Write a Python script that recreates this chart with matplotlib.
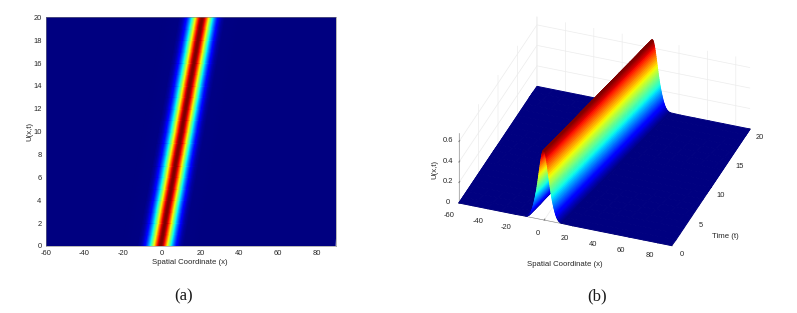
import numpy as np
import matplotlib
matplotlib.use('Agg')
import matplotlib.pyplot as plt
from mpl_toolkits.mplot3d import proj3d

plt.rcParams['font.family'] = ['Liberation Sans', 'DejaVu Sans']
plt.rcParams['axes.unicode_minus'] = False

# ridge position x for each time t
times = [0, 1, 2, 3, 4, 5, 6, 7, 8, 9, 10, 11, 12, 13, 14, 15, 16, 17, 18, 19, 20]
centres = [-0.3, 0.8, 1.9, 2.9, 4.0, 5.1, 6.2, 7.2, 8.3, 9.4, 10.5,
           11.5, 12.6, 13.7, 14.7, 15.8, 16.9, 18.0, 19.0, 20.1, 21.2]

# pulse height against distance from the ridge
half_offsets = [0, 0.2, 0.4, 0.6, 0.8, 1.0, 1.2, 1.4, 1.6, 1.8, 2.0, 2.2, 2.4, 2.6, 2.8, 3.0,
                3.2, 3.4, 3.6, 3.8, 4.0, 4.2, 4.4, 4.6, 4.8, 5.0, 5.2, 5.4, 5.6, 5.8, 6.0, 6.2,
                6.4, 6.6, 6.8, 7.0, 7.2, 7.4, 7.6, 7.8, 8.0, 8.2, 8.4, 8.6, 8.8, 9.0, 9.2, 9.4,
                9.6, 9.8, 10.0, 10.2, 10.4, 10.6, 10.8, 11.0, 11.2, 11.4, 11.6, 11.8, 12.0,
                12.4, 12.8, 20, 30, 40, 50, 60, 70, 80, 90]
half_values = [0.680, 0.678, 0.676, 0.670, 0.663, 0.653, 0.642, 0.629, 0.615, 0.599, 0.582,
               0.564, 0.545, 0.525, 0.505, 0.484, 0.463, 0.442, 0.421, 0.400, 0.380, 0.360,
               0.341, 0.322, 0.303, 0.285, 0.268, 0.252, 0.237, 0.222, 0.207, 0.194, 0.182,
               0.169, 0.156, 0.144, 0.133, 0.122, 0.112, 0.102, 0.093, 0.084, 0.076, 0.068,
               0.061, 0.054, 0.048, 0.042, 0.037, 0.033, 0.029, 0.025, 0.021, 0.018, 0.016,
               0.014, 0.012, 0.010, 0.008, 0.006, 0.005, 0.004, 0.003,
               0.0, 0.0, 0.0, 0.0, 0.0, 0.0, 0.0, 0.0]

x_ticks = [-60, -40, -20, 0, 20, 40, 60, 80]
a_t_ticks = [0, 2, 4, 6, 8, 10, 12, 14, 16, 18, 20]
b_t_ticks = [0, 5, 10, 15, 20]
u_ticks = [0, 0.2, 0.4, 0.6]
text_col = '#262626'
grid_col = '#ececec'

offsets = np.array([-v for v in half_offsets[:0:-1]] + half_offsets)
profile = np.array(half_values[:0:-1] + half_values)
X = np.clip(np.add.outer(centres, offsets), -60, 90)
T = np.repeat(np.array(times, dtype=float)[:, None], len(offsets), axis=1)
U = np.repeat(profile[None, :], len(times), axis=0)

fig = plt.figure(figsize=(7.97, 3.13), dpi=100)

# panel (a)
ax = fig.add_axes([45.7 / 797, 1 - 246 / 313, 290 / 797, 228.7 / 313])
ax.pcolormesh(X, T, U, cmap='jet', vmin=0, vmax=0.68, shading='gouraud')
ax.set_xlim(-60, 90)
ax.set_ylim(0, 20)
ax.set_xticks(x_ticks)
ax.set_yticks(a_t_ticks)
ax.tick_params(length=0, labelsize=5.4, labelcolor=text_col, pad=3)
for s in ax.spines.values():
    s.set_color('#808080')
    s.set_linewidth(0.4)
fig.text(190 / 797, 1 - 263 / 313, 'Spatial Coordinate (x)', fontsize=5.6, color=text_col,
         ha='center', va='center')
fig.text(29.5 / 797, 1 - 131 / 313, 'U(x,t)', fontsize=5.6, color=text_col, rotation=90,
         ha='center', va='center')

# panel (b)
ax3 = fig.add_axes([395 / 797, -0.15, 420 / 797, 420 / 313], projection='3d')
ax3.set_proj_type('ortho')
ax3.view_init(elev=33.2, azim=-69.9)
aspect = (1, 1, 0.367)
ax3.set_box_aspect(aspect)
surf = ax3.plot_surface(X, T, U, cmap='jet', vmin=0, vmax=0.68, rstride=1, cstride=1,
                        linewidth=0.7, shade=False)
surf.set_edgecolor('face')
ax3.set_xlim(-60, 90, view_margin=0)
ax3.set_ylim(0, 20, view_margin=0)
ax3.set_zlim(0, 0.68, view_margin=0)
ax3.set_xticks(x_ticks)
ax3.set_yticks(b_t_ticks)
ax3.set_zticks(u_ticks)
ax3.set_zticklabels(['0', '0.2', '0.4', '0.6'])
ax3.zaxis.set_ticks_position('lower')
for axis in (ax3.xaxis, ax3.yaxis, ax3.zaxis):
    axis.set_pane_color((1, 1, 1, 0))
    axis.pane.set_edgecolor('none')
    axis.line.set_color('#808080')
    axis.line.set_linewidth(0.4)
    axis._axinfo['grid'].update(color=grid_col, linewidth=0.5)
    axis._axinfo['tick'].update(inward_factor=0, outward_factor=0.1)
    axis.set_tick_params(labelsize=5.4, labelcolor=text_col, pad=-2, width=0.4, color='#808080')
ax3.xaxis.set_tick_params(pad=0)
ax3.yaxis.set_tick_params(pad=-1)
for lbl in ax3.xaxis.get_ticklabels():
    lbl.set_ha('right')
for lbl in ax3.zaxis.get_ticklabels():
    lbl.set_va('bottom')


def corner(x, y, z):
    xs, ys, _ = proj3d.proj_transform(x, y, z, ax3.get_proj())
    return ax3.transData.transform((xs, ys))


# fit the floor corners on to where they sit in the reference
ax3.apply_aspect()
p0, p1 = corner(-60, 0, 0), corner(90, 20, 0)
ax3.set_box_aspect(aspect, zoom=(750 - 459) / (p1[0] - p0[0]))
ax3.apply_aspect()
p0 = corner(-60, 0, 0)
pos = ax3.get_position()
ax3.set_position([pos.x0 + (459 - p0[0]) / 797, pos.y0 + (313 - 203 - p0[1]) / 313,
                  pos.width, pos.height])

fig.text(564.7 / 797, 1 - 264 / 313, 'Spatial Coordinate (x)', fontsize=5.6, color=text_col,
         ha='center', va='center')
fig.text(725.7 / 797, 1 - 236 / 313, 'Time (t)', fontsize=5.6, color=text_col,
         ha='center', va='center')
fig.text(435 / 797, 1 - 169 / 313, 'U(x,t)', fontsize=5.6, color=text_col, rotation=90,
         ha='center', va='center')

fig.text(184 / 797, 1 - 296 / 313, '(a)', fontsize=12, family='Liberation Serif', color='#1a1a1a',
         ha='center', va='center')
fig.text(597 / 797, 1 - 296 / 313, '(b)', fontsize=12, family='Liberation Serif', color='#1a1a1a',
         ha='center', va='center')

fig.savefig('out.png', dpi=100)
